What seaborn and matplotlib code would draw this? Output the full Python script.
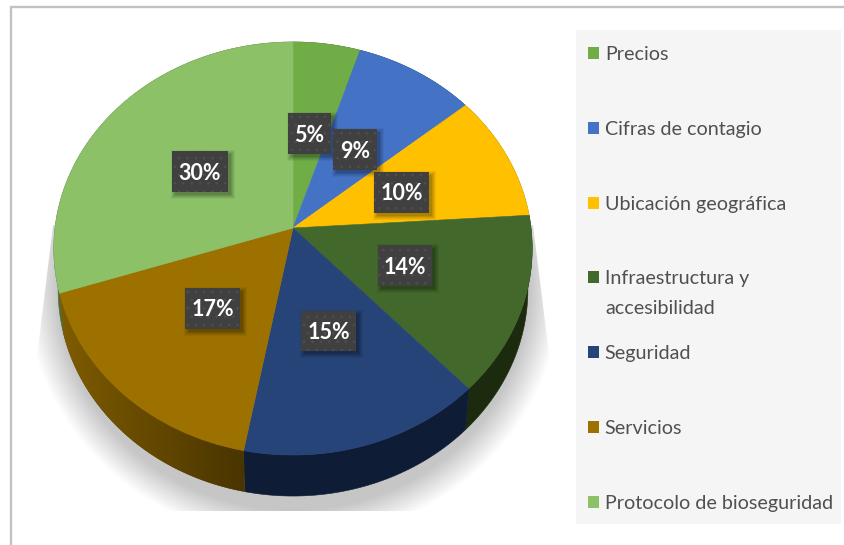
import numpy as np
import matplotlib
matplotlib.use("Agg")
import matplotlib.pyplot as plt
import matplotlib.transforms as mtransforms
from matplotlib.patches import Rectangle, Polygon
import seaborn as sns

categories = ["Precios", "Cifras de contagio", "Ubicación geográfica", "Infraestructura y",
              "Seguridad", "Servicios", "Protocolo de bioseguridad"]
shares = [5, 9, 10, 14, 15, 17, 30]
value_labels = ["5%", "9%", "10%", "14%", "15%", "17%", "30%"]
second_line = "accesibilidad"

face_colors = ["#70ad47", "#4472c4", "#ffc000", "#43682b", "#264478", "#9c7100", "#8cc168"]
side_colors = ["#3c5c26", "#253e6b", "#8a6800", "#1c2a0e", "#0f1c35", "#5c4300", "#4d6a39"]
label_boxes = [(288, 113, 43, 41), (333, 129, 44, 41), (374, 172, 55, 41), (378, 245, 54, 41),
               (301, 311, 55, 40), (185, 288, 55, 41), (172, 151, 56, 41)]

sns.set_theme(style="white")
plt.rcParams["font.family"] = ["Lato", "DejaVu Sans"]
plt.rcParams["hatch.linewidth"] = 0.6
palette = sns.color_palette(face_colors)

W, H = 844, 545
CX, CY, RX, A, C = 293.0, 228.0, 238.0, 204.5, 0.0993
DEPTH, SX = 41.0, 0.982


class Tilt(mtransforms.Transform):
    input_dims = output_dims = 2
    is_separable = False
    has_inverse = False

    def __init__(self, dy=0.0, sx=1.0):
        super().__init__()
        self.dy, self.sx = dy, sx

    def transform_non_affine(self, xy):
        xy = np.asarray(xy, dtype=float)
        u, v = xy[:, 0], xy[:, 1]
        w = 1 + C * v
        return np.column_stack([CX + self.sx * RX * u / w, CY + self.dy - A * v / w])


fig = plt.figure(figsize=(W / 100, H / 100), dpi=100, facecolor="white")
ax = fig.add_axes([0, 0, 1, 1])

wedges, _ = ax.pie(shares, colors=palette, startangle=90, counterclock=False, radius=1,
                   wedgeprops=dict(linewidth=0.4, zorder=3))
top = Tilt()
for w, c in zip(wedges, palette):
    w.set_edgecolor(c)
    w.set_transform(top + ax.transData)
    w.set_clip_on(False)

# soft shadow under the pie
yy, xx = np.mgrid[0:H, 0:W]
r = np.sqrt(((xx - 293) / 268.0) ** 2 + ((yy - 285) / 255.0) ** 2)
alpha = np.clip((1.0 - r) / 0.12, 0, 1)
rgba = np.zeros((H, W, 4))
rgba[..., :3] = 0.78
rgba[..., 3] = alpha
shadow_clip = Polygon([(53, 225), (37, 357), (37, 511), (549, 511), (550, 362), (533, 225)],
                      closed=True, transform=ax.transData, fill=False, lw=0)
ax.add_patch(shadow_clip)
im = ax.imshow(rgba, extent=(0, W, H, 0), aspect="auto", zorder=1, interpolation="bilinear")
im.set_clip_path(shadow_clip)

# extruded side of the pie
low = Tilt(DEPTH, SX)
for w, c, name in zip(wedges, side_colors, categories):
    t = np.radians(np.linspace(w.theta1, w.theta2, 90))
    rim = np.column_stack([np.cos(t), np.sin(t)])
    pts = np.vstack([top.transform_non_affine(rim), low.transform_non_affine(rim)[::-1]])
    poly = Polygon(pts, closed=True, facecolor=c, edgecolor=c, lw=0.4, zorder=2)
    ax.add_patch(poly)
    if name == "Servicios":
        x0, x1 = pts[:, 0].min(), pts[:, 0].max()
        grad = np.linspace(0, 1, 256).reshape(1, -1)
        cmap = matplotlib.colors.LinearSegmentedColormap.from_list("side", ["#7f5c00", "#4a3500"])
        g = ax.imshow(grad, extent=(x0, x1, pts[:, 1].max(), pts[:, 1].min()), aspect="auto",
                      cmap=cmap, zorder=2.1)
        g.set_clip_path(poly)

# value labels
for (x, y, bw, bh), txt in zip(label_boxes, value_labels):
    for grow, a in [(4, 0.05), (3, 0.06), (2, 0.07), (1, 0.08), (0, 0.1)]:
        ax.add_patch(Rectangle((x + 3 - grow, y + 3 - grow), bw + 2 * grow, bh + 2 * grow,
                               facecolor="black", alpha=a, lw=0, zorder=4))
    ax.add_patch(Rectangle((x, y), bw, bh, facecolor="#404040", edgecolor="#4f4f4f", hatch="..",
                           lw=0, zorder=5))
    ax.text(x + bw / 2, y + bh / 2 + 1.5, txt, color="white", fontsize=15.5, fontweight="bold",
            ha="center", va="center", zorder=6)

# legend panel
ax.add_patch(Rectangle((576, 30), 265, 494, facecolor="#f5f5f5", edgecolor="none", zorder=1))
leg = ax.legend(wedges, categories, loc="upper left", bbox_to_anchor=(588, 46), bbox_transform=ax.transData,
                frameon=False, fontsize=14.2, labelcolor="#505050", labelspacing=2.93, handlelength=0.55,
                handleheight=0.55, handletextpad=0.3, borderpad=0, borderaxespad=0)
for h in leg.legend_handles:
    h.set_linewidth(0)
ax.text(605, 308, second_line, color="#505050", fontsize=14.2, va="center", ha="left", zorder=6)

# frame
ax.plot([10.5, 10.5, W], [H, 7, 7], color="#c2c2c2", lw=1.7, zorder=0.5, solid_joinstyle="miter")

ax.set_aspect("auto")
ax.set_xlim(0, W)
ax.set_ylim(H, 0)
ax.axis("off")
fig.savefig("out.png", dpi=100, facecolor="white")
